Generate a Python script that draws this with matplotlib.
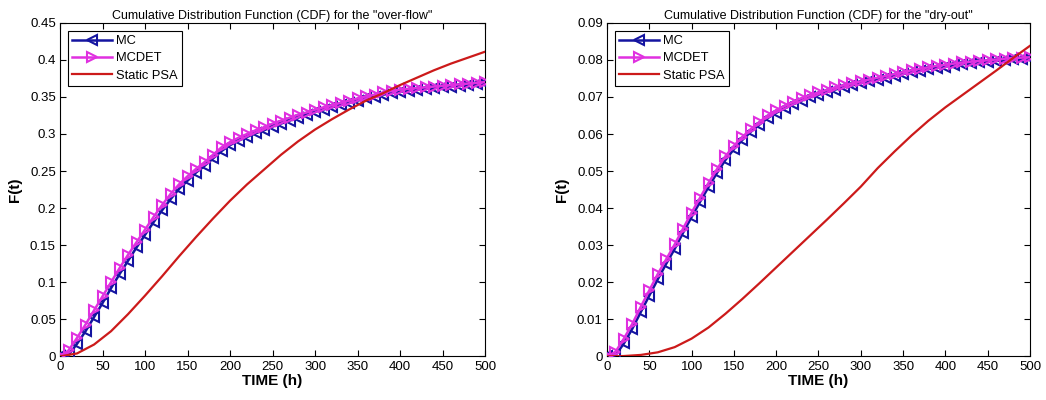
import matplotlib
matplotlib.use("Agg")
import matplotlib.pyplot as plt

# time grid of the simulated curves (h) and of the static PSA curve
t_sim = list(range(0, 501, 10))
t_static = list(range(0, 501, 20))

# over-flow
mcdet_over = [0.0, 0.008, 0.025, 0.043, 0.062, 0.081, 0.100, 0.119, 0.137, 0.154,
              0.171, 0.188, 0.204, 0.219, 0.232, 0.243, 0.253, 0.262, 0.272, 0.282,
              0.289, 0.295, 0.300, 0.305, 0.309, 0.314, 0.318, 0.322, 0.326, 0.329,
              0.333, 0.336, 0.339, 0.342, 0.345, 0.348, 0.351, 0.353, 0.356, 0.358,
              0.360, 0.361, 0.362, 0.363, 0.364, 0.365, 0.366, 0.367, 0.368, 0.369, 0.370]
mc_over = [0.0, 0.002, 0.017, 0.034, 0.053, 0.072, 0.092, 0.111, 0.129, 0.147,
           0.164, 0.181, 0.197, 0.212, 0.226, 0.237, 0.248, 0.257, 0.267, 0.277,
           0.285, 0.291, 0.296, 0.301, 0.305, 0.310, 0.314, 0.318, 0.322, 0.326,
           0.330, 0.333, 0.336, 0.339, 0.342, 0.345, 0.348, 0.350, 0.353, 0.355,
           0.357, 0.358, 0.360, 0.361, 0.362, 0.363, 0.364, 0.365, 0.366, 0.367, 0.369]
psa_over = [0.0, 0.004, 0.016, 0.034, 0.057, 0.082, 0.108, 0.135, 0.161, 0.186,
            0.210, 0.232, 0.252, 0.272, 0.290, 0.306, 0.320, 0.333, 0.345, 0.355,
            0.366, 0.376, 0.386, 0.395, 0.403, 0.411]

# dry-out
mcdet_dry = [0.0, 0.0012, 0.0048, 0.0088, 0.0134, 0.0178, 0.0222, 0.0262, 0.0302, 0.0345,
             0.0388, 0.0428, 0.0468, 0.0505, 0.0540, 0.0568, 0.0592, 0.0613, 0.0632, 0.0650,
             0.0664, 0.0676, 0.0687, 0.0697, 0.0705, 0.0712, 0.0719, 0.0726, 0.0732, 0.0737,
             0.0742, 0.0747, 0.0752, 0.0757, 0.0762, 0.0767, 0.0772, 0.0776, 0.0780, 0.0784,
             0.0787, 0.0790, 0.0793, 0.0795, 0.0797, 0.0799, 0.0801, 0.0803, 0.0805, 0.0806, 0.0807]
mc_dry = [0.0, 0.0003, 0.0035, 0.0075, 0.0120, 0.0164, 0.0208, 0.0250, 0.0290, 0.0334,
          0.0376, 0.0417, 0.0457, 0.0495, 0.0530, 0.0559, 0.0584, 0.0606, 0.0625, 0.0643,
          0.0657, 0.0669, 0.0680, 0.0690, 0.0699, 0.0706, 0.0713, 0.0720, 0.0726, 0.0731,
          0.0737, 0.0742, 0.0747, 0.0752, 0.0757, 0.0762, 0.0767, 0.0771, 0.0775, 0.0779,
          0.0782, 0.0785, 0.0788, 0.0791, 0.0793, 0.0795, 0.0797, 0.0799, 0.0801, 0.0802, 0.0804]
psa_dry = [0.0, 0.0001, 0.0004, 0.0011, 0.0025, 0.0048, 0.0078, 0.0115, 0.0155, 0.0197,
           0.0240, 0.0283, 0.0326, 0.0369, 0.0413, 0.0458, 0.0508, 0.0553, 0.0596, 0.0636,
           0.0672, 0.0705, 0.0738, 0.0771, 0.0805, 0.0838]

titles = ['Cumulative Distribution Function (CDF) for the "over-flow"',
          'Cumulative Distribution Function (CDF) for the "dry-out"']
ylims = [(0, 0.45), (0, 0.09)]
yticks = [[i * 0.05 for i in range(10)], [i * 0.01 for i in range(10)]]
ytick_labels = [["0", "0.05", "0.1", "0.15", "0.2", "0.25", "0.3", "0.35", "0.4", "0.45"],
                ["0", "0.01", "0.02", "0.03", "0.04", "0.05", "0.06", "0.07", "0.08", "0.09"]]
xticks = list(range(0, 501, 50))

plt.rcParams['font.family'] = ['Liberation Sans', 'DejaVu Sans']

fig = plt.figure(figsize=(10.46, 4.0), dpi=100)
positions = [[0.0574, 0.109, 0.4063, 0.834], [0.5803, 0.109, 0.4044, 0.834]]
data = [(mc_over, mcdet_over, psa_over), (mc_dry, mcdet_dry, psa_dry)]

for k in range(2):
    ax = fig.add_axes(positions[k])
    mc, mcdet, psa = data[k]
    ax.plot(t_sim, mc, color="#1414a0", lw=1.8, marker="<", ms=6.5,
            mfc="none", mec="#1414a0", mew=1.5, label="MC", zorder=3)
    ax.plot(t_sim, mcdet, color="#e030e0", lw=1.8, marker=">", ms=6.5,
            mfc="none", mec="#e030e0", mew=1.5, label="MCDET", zorder=4)
    ax.plot(t_static, psa, color="#cc1a1a", lw=1.6, label="Static PSA", zorder=5)

    ax.set_xlim(0, 500)
    ax.set_ylim(*ylims[k])
    ax.set_xticks(xticks)
    ax.set_yticks(yticks[k])
    ax.set_yticklabels(ytick_labels[k])
    ax.tick_params(direction="in", top=True, right=True, labelsize=9.5,
                   length=4, width=0.8, pad=3)
    for s in ax.spines.values():
        s.set_linewidth(0.8)
    ax.set_title(titles[k], fontsize=9, pad=3)
    ax.set_xlabel("TIME (h)", fontsize=11, fontweight="bold", labelpad=1)
    ax.set_ylabel("F(t)", fontsize=11, fontweight="bold", labelpad=6)
    leg = ax.legend(loc="upper left", fontsize=9.3, fancybox=False,
                    edgecolor="black", framealpha=1, borderpad=0.35,
                    handlelength=3.1, labelspacing=0.4, handletextpad=0.3,
                    borderaxespad=0.6)
    leg.get_frame().set_linewidth(0.8)

fig.savefig("out.png", dpi=100)
